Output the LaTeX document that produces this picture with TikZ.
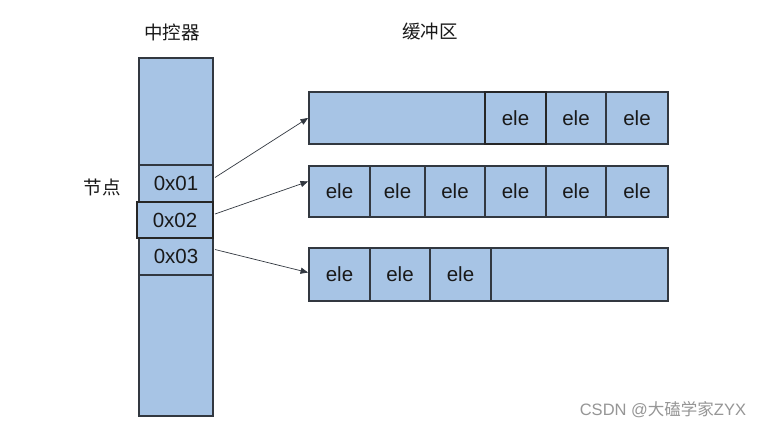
\documentclass[tikz,border=0pt]{standalone}
\usepackage{fontspec}
\setmainfont{Liberation Sans}
\newfontfamily\cjk{Noto Sans CJK SC}
\usepackage{tikz}
\usetikzlibrary{shapes,arrows}
\definecolor{cellBlue}{RGB}{167,196,229}
\definecolor{lineGrey}{RGB}{50,56,64}
\definecolor{markGrey}{RGB}{150,150,150}

\begin{document}
\begin{tikzpicture}[x=1pt, y=-1pt]%
  \tikzset{normal arrow/.style={draw,-triangle 45,line width=0.7pt,lineGrey}}
  \tikzstyle{every node}=[inner sep=0pt, outer sep=0pt, text=black!90]
  \tikzstyle{cell}=[draw=lineGrey, fill=cellBlue, line width=1.1pt, anchor=north west, font=\fontsize{20.5}{24}\selectfont]
  \tikzstyle{cur}=[cell, draw=black!85, line width=1.5pt]

  \useasboundingbox[fill=white] (0,0) rectangle (759,429);

  % controller column
  \node[cell, minimum width=74pt, minimum height=358pt] (ctrl) at (139,58) {};
  \node[cell, minimum width=74pt, minimum height=37pt] (n1) at (139,165) {0x01};
  \node[cell, minimum width=74pt, minimum height=37pt] (n3) at (139,238) {0x03};
  \node[cur, minimum width=76pt, minimum height=36pt] (n2) at (137,202) {0x02};

  \node[font=\cjk\fontsize{18.5}{20}\selectfont] (ctrltitle) at (172,32) {中控器};
  \node[font=\cjk\fontsize{18.5}{20}\selectfont] (nodelabel) at (102,187) {节点};
  \node[font=\cjk\fontsize{18.5}{20}\selectfont] (buftitle) at (430,32) {缓冲区};

  % buffer 1
  \node[cell, minimum width=359pt, minimum height=52pt] (buf1) at (309,92) {};
  \node[cell, minimum width=60pt, minimum height=52pt] (b1e2) at (546,92) {ele};
  \node[cell, minimum width=62pt, minimum height=52pt] (b1e3) at (606,92) {ele};
  \node[cur, minimum width=61pt, minimum height=52pt] (b1e1) at (485,92) {ele};

  % buffer 2
  \node[cell, minimum width=359pt, minimum height=51pt] (buf2) at (309,166) {};
  \node[cell, minimum width=61pt, minimum height=51pt] (b2e1) at (309,166) {ele};
  \node[cell, minimum width=55pt, minimum height=51pt] (b2e2) at (370,166) {ele};
  \node[cell, minimum width=60pt, minimum height=51pt] (b2e3) at (425,166) {ele};
  \node[cell, minimum width=61pt, minimum height=51pt] (b2e4) at (485,166) {ele};
  \node[cell, minimum width=60pt, minimum height=51pt] (b2e5) at (546,166) {ele};
  \node[cell, minimum width=62pt, minimum height=51pt] (b2e6) at (606,166) {ele};

  % buffer 3
  \node[cell, minimum width=359pt, minimum height=53pt] (buf3) at (309,248) {};
  \node[cell, minimum width=61pt, minimum height=53pt] (b3e1) at (309,248) {ele};
  \node[cell, minimum width=60pt, minimum height=53pt] (b3e2) at (370,248) {ele};
  \node[cell, minimum width=61pt, minimum height=53pt] (b3e3) at (430,248) {ele};

  \path[normal arrow] ([xshift=2pt,yshift=6pt]n1.east) -- ([xshift=-1pt]buf1.west);
  \path[normal arrow] ([xshift=2pt,yshift=6pt]n2.east) -- ([xshift=-1pt,yshift=10pt]buf2.west);
  \path[normal arrow] ([xshift=2pt,yshift=7pt]n3.east) -- ([xshift=-1pt,yshift=2pt]buf3.west);

  \node[text=markGrey, font=\fontsize{16.5}{19}\selectfont, anchor=east] (mark) at (746,410) {CSDN @{\cjk 大磕学家}ZYX};
\end{tikzpicture}
\end{document}
